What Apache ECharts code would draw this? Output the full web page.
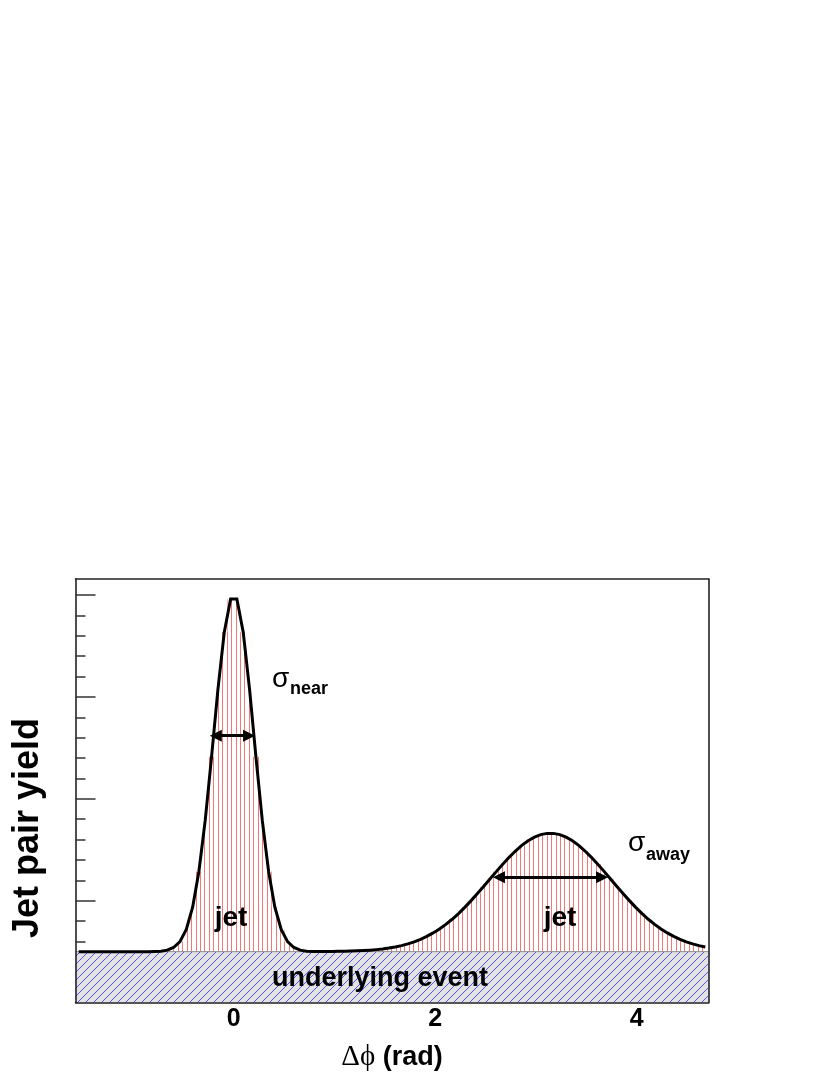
<!DOCTYPE html>
<html>
<head>
<meta charset="utf-8">
<script src="https://cdn.jsdelivr.net/npm/echarts@6/dist/echarts.min.js"></script>
<style>
  html, body { margin: 0; padding: 0; background: #ffffff; }
  #chart { width: 830px; height: 1075px; }
</style>
</head>
<body>
<div id="chart"></div>
<script>
// ---------------- data ----------------
// bin centres in delta-phi (rad)
const phi = [
  -1.539,-1.477,-1.414,-1.351,-1.288,-1.225,-1.162,-1.100,-1.037,-0.974,
  -0.911,-0.848,-0.785,-0.723,-0.660,-0.597,-0.534,-0.471,-0.408,-0.346,
  -0.283,-0.220,-0.157,-0.094,-0.031, 0.031, 0.094, 0.157, 0.220, 0.283,
   0.346, 0.408, 0.471, 0.534, 0.597, 0.660, 0.723, 0.785, 0.848, 0.911,
   0.974, 1.037, 1.100, 1.162, 1.225, 1.288, 1.351, 1.414, 1.477, 1.539,
   1.602, 1.665, 1.728, 1.791, 1.854, 1.916, 1.979, 2.042, 2.105, 2.168,
   2.231, 2.293, 2.356, 2.419, 2.482, 2.545, 2.608, 2.670, 2.733, 2.796,
   2.859, 2.922, 2.985, 3.047, 3.110, 3.173, 3.236, 3.299, 3.362, 3.424,
   3.487, 3.550, 3.613, 3.676, 3.738, 3.801, 3.864, 3.927, 3.990, 4.053,
   4.115, 4.178, 4.241, 4.304, 4.367, 4.430, 4.492, 4.555, 4.618, 4.681
];
// jet pair yield (arbitrary units) at each bin centre
const pairYield = [
  0.500,0.500,0.500,0.500,0.500,0.500,0.500,0.500,0.500,0.500,
  0.500,0.500,0.502,0.505,0.515,0.541,0.599,0.718,0.936,1.287,
  1.791,2.414,3.074,3.636,3.961,3.961,3.636,3.074,2.414,1.791,
  1.287,0.936,0.718,0.599,0.541,0.515,0.505,0.502,0.501,0.501,
  0.502,0.503,0.504,0.506,0.508,0.511,0.515,0.520,0.526,0.535,
  0.546,0.559,0.576,0.596,0.621,0.650,0.684,0.723,0.768,0.818,
  0.874,0.935,1.001,1.070,1.142,1.215,1.288,1.359,1.426,1.488,
  1.543,1.589,1.624,1.649,1.661,1.661,1.649,1.624,1.589,1.543,
  1.488,1.426,1.359,1.288,1.215,1.142,1.070,1.001,0.935,0.874,
  0.818,0.768,0.723,0.684,0.650,0.621,0.596,0.576,0.559,0.546
];
// underlying event level (flat pedestal)
const underlyingLevel = 0.5;
const underlyingX = [-1.5708, 4.7124];

// width arrows (shaft ends): [x start, x end], y level
const nearArrowX = [-0.178, 0.152];
const nearArrowY = 2.62;
const awayArrowX = [2.632, 3.656];
const awayArrowY = 1.23;

// axes
const xRange = [-1.5708, 4.7124];
const yRange = [0, 4.158];
const xTickLabels = [0, 2, 4];
const yMajorTicks = [1, 2, 3, 4];
const yMinorTicks = [0.6, 0.8, 1.2, 1.4, 1.6, 1.8, 2.2, 2.4, 2.6, 2.8, 3.2, 3.4, 3.6, 3.8];

// ---------------- patterns ----------------
function redHatch() {
  const c = document.createElement('canvas');
  c.width = 40; c.height = 4;
  const g = c.getContext('2d');
  g.fillStyle = '#f27878';
  for (let k = 0; k < 9; k++) {
    g.fillRect(Math.round(k * 40 / 9), 0, 1, 4);
  }
  return c;
}
function blueHatch() {
  const c = document.createElement('canvas');
  c.width = 8; c.height = 8;
  const g = c.getContext('2d');
  g.fillStyle = '#e3e3e3';
  g.fillRect(0, 0, 8, 8);
  g.strokeStyle = '#5555ff';
  g.lineWidth = 1;
  g.beginPath();
  g.moveTo(0, 8); g.lineTo(8, 0);
  g.moveTo(-1, 1); g.lineTo(1, -1);
  g.moveTo(7, 9); g.lineTo(9, 7);
  g.stroke();
  return c;
}

const curve = phi.map((x, i) => [x, pairYield[i]]);
const pedestal = underlyingX.map(x => [x, underlyingLevel]);

const SANS = '"Liberation Sans", Arial, Helvetica, sans-serif';
const SERIF = '"Liberation Serif", "Times New Roman", serif';
const FRAME = '#222222';

const chart = echarts.init(document.getElementById('chart'), null, { renderer: 'canvas' });

const arrowLine = (xs, y) => [{ coord: [xs[0], y] }, { coord: [xs[1], y] }];

chart.setOption({
  backgroundColor: '#ffffff',
  animation: false,
  grid: { left: 75.5, top: 579, width: 633, height: 423.6, containLabel: false, show: false },
  xAxis: [
    {
      type: 'value', position: 'bottom', min: xRange[0], max: xRange[1], z: 10,
      axisLine: { show: true, onZero: false, lineStyle: { color: FRAME, width: 1.6 } },
      axisTick: { show: false },
      splitLine: { show: false },
      axisLabel: {
        customValues: xTickLabels, margin: 4,
        fontFamily: SANS, fontWeight: 'bold', fontSize: 25, color: '#000',
        formatter: v => String(Math.round(v))
      },
      name: '{g|Δϕ}{b| (rad)}', nameLocation: 'middle', nameGap: 40,
      nameTextStyle: {
        rich: {
          g: { fontFamily: SERIF, fontSize: 29, color: '#000' },
          b: { fontFamily: SANS, fontWeight: 'bold', fontSize: 27, color: '#000' }
        }
      }
    },
    {
      type: 'value', position: 'top', min: xRange[0], max: xRange[1], z: 10,
      axisLine: { show: true, onZero: false, lineStyle: { color: FRAME, width: 1.6 } },
      axisTick: { show: false }, axisLabel: { show: false }, splitLine: { show: false }
    }
  ],
  yAxis: [
    {
      type: 'value', position: 'left', min: yRange[0], max: yRange[1], z: 10,
      axisLine: { show: true, onZero: false, lineStyle: { color: FRAME, width: 1.6 } },
      axisTick: { show: true, inside: true, length: 20, customValues: yMajorTicks,
                  lineStyle: { color: '#333', width: 1.5 } },
      axisLabel: { show: false }, splitLine: { show: false }
    },
    {
      type: 'value', position: 'left', min: yRange[0], max: yRange[1], z: 10,
      axisLine: { show: false, onZero: false },
      axisTick: { show: true, inside: true, length: 10, customValues: yMinorTicks,
                  lineStyle: { color: '#333', width: 1.5 } },
      axisLabel: { show: false }, splitLine: { show: false }
    },
    {
      type: 'value', position: 'right', min: yRange[0], max: yRange[1], z: 10,
      axisLine: { show: true, onZero: false, lineStyle: { color: FRAME, width: 1.6 } },
      axisTick: { show: false }, axisLabel: { show: false }, splitLine: { show: false }
    }
  ],
  series: [
    {
      name: 'jet hatch', type: 'line', step: 'middle', data: curve,
      showSymbol: false, symbol: 'none', z: 1, silent: true,
      lineStyle: { width: 0, opacity: 0 },
      areaStyle: { color: { image: redHatch(), repeat: 'repeat' }, opacity: 1 }
    },
    {
      name: 'underlying event', type: 'line', data: pedestal,
      showSymbol: false, symbol: 'none', z: 2, silent: true,
      lineStyle: { width: 1, color: '#8a8a8a' },
      areaStyle: { color: { image: blueHatch(), repeat: 'repeat' }, opacity: 1 }
    },
    {
      name: 'jet pair yield', type: 'line', data: curve,
      showSymbol: false, symbol: 'none', z: 3, silent: true,
      lineStyle: { width: 3, color: '#000', join: 'miter' },
      markLine: {
        silent: true, z: 4,
        symbol: ['triangle', 'triangle'], symbolSize: [12, 12],
        lineStyle: { color: '#000', width: 3, type: 'solid' },
        itemStyle: { color: '#000' },
        label: { show: false },
        emphasis: { disabled: true },
        data: [arrowLine(nearArrowX, nearArrowY), arrowLine(awayArrowX, awayArrowY)]
      }
    }
  ],
  graphic: [
    { type: 'text', x: 28, y: 828, rotation: Math.PI / 2, z: 20, silent: true,
      style: { text: 'Jet pair yield', align: 'center', verticalAlign: 'middle',
               fontFamily: SANS, fontWeight: 'bold', fontSize: 36, fill: '#000' } },
    { type: 'text', x: 231, y: 918, z: 20, silent: true,
      style: { text: 'jet', align: 'center', verticalAlign: 'middle',
               fontFamily: SANS, fontWeight: 'bold', fontSize: 28, fill: '#000' } },
    { type: 'text', x: 560, y: 918, z: 20, silent: true,
      style: { text: 'jet', align: 'center', verticalAlign: 'middle',
               fontFamily: SANS, fontWeight: 'bold', fontSize: 28, fill: '#000' } },
    { type: 'text', x: 380, y: 979, z: 20, silent: true,
      style: { text: 'underlying event', align: 'center', verticalAlign: 'middle',
               fontFamily: SANS, fontWeight: 'bold', fontSize: 27, fill: '#000' } },
    { type: 'text', x: 272, y: 679, z: 20, silent: true,
      style: { text: 'σ', align: 'left', verticalAlign: 'middle',
               fontFamily: SANS, fontSize: 28, fill: '#000' } },
    { type: 'text', x: 290, y: 689.5, z: 20, silent: true,
      style: { text: 'near', align: 'left', verticalAlign: 'middle',
               fontFamily: SANS, fontWeight: 'bold', fontSize: 18, fill: '#000' } },
    { type: 'text', x: 628, y: 843, z: 20, silent: true,
      style: { text: 'σ', align: 'left', verticalAlign: 'middle',
               fontFamily: SANS, fontSize: 28, fill: '#000' } },
    { type: 'text', x: 646, y: 855.5, z: 20, silent: true,
      style: { text: 'away', align: 'left', verticalAlign: 'middle',
               fontFamily: SANS, fontWeight: 'bold', fontSize: 18, fill: '#000' } }
  ]
});
</script>
</body>
</html>
